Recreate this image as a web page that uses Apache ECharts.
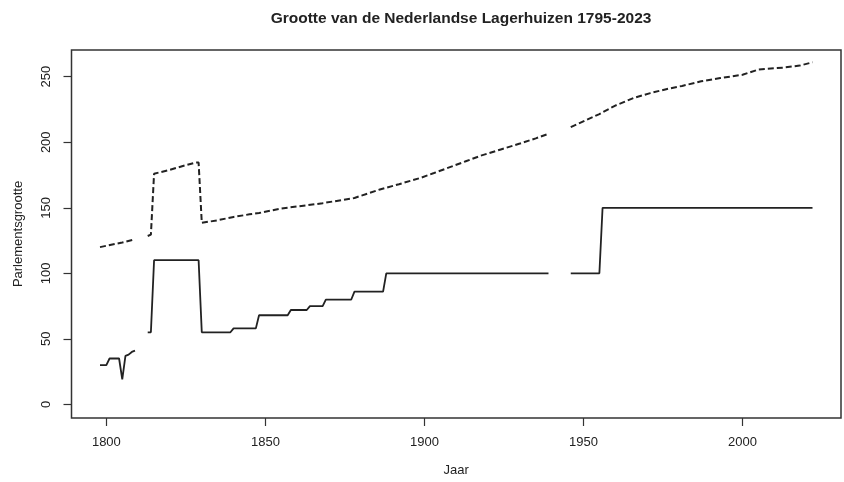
<!DOCTYPE html>
<html>
<head>
<meta charset="utf-8">
<script src="https://cdn.jsdelivr.net/npm/echarts@6/dist/echarts.min.js"></script>
<style>
html,body{margin:0;padding:0;background:#fff;}
#c{width:844px;height:482px;}
</style>
</head>
<body>
<div id="c"></div>
<script>
// Tick labels
const xTicks = [1800, 1850, 1900, 1950, 2000];
const yTicks = [0, 50, 100, 150, 200, 250];

// Solid line: actual size of the lower house ('-' marks a gap)
const sizeYears  = [1798,1800,1801,1804,1805,1806,1807,1808,1809,1810,1813,1814,1815,1829,1830,1839,1840,1847,1848,1857,1858,1863,1864,1868,1869,1877,1878,1887,1888,1939,1940,1946,1955,1956,2022];
const sizeValues = [30,30,35,35,19,37,38,40,41,'-',55,55,110,110,55,55,58,58,68,68,72,72,75,75,80,80,86,86,100,100,'-',100,100,150,150];

// Dashed line: second series ('-' marks a gap)
const refYears  = [1798,1800,1805,1809,1810,1813,1814,1815,1820,1825,1828,1829,1830,1835,1840,1845,1848,1855,1860,1868,1878,1886,1892,1899,1903,1908,1913,1918,1924,1930,1935,1939,1940,1946,1955,1960,1966,1971,1976,1981,1987,1993,2000,2005,2013,2018,2022];
const refValues = [120,121,123.5,126,'-',128.5,129.5,176,179,182.5,184.5,184.5,138.5,140.5,143,145,146,149.5,151,153.5,157.5,164,168,173,176.5,181,185.5,190,194.5,199,203,206.5,'-',211.5,221.5,228,234,237.5,240.5,243,246.5,249,251.5,255.5,257,258.5,261];

const pairs = (xs, ys) => xs.map((x, i) => [x, ys[i]]);

const font = "'Liberation Sans', Arial, Helvetica, sans-serif";
const ink = '#222';

const chart = echarts.init(document.getElementById('c'), null, {renderer: 'canvas'});
chart.setOption({
  animation: false,
  backgroundColor: '#fff',
  title: {
    text: 'Grootte van de Nederlandse Lagerhuizen 1795-2023',
    left: 456, top: 6, textAlign: 'center',
    textStyle: {fontFamily: font, fontSize: 15.5, fontWeight: 'bold', color: ink}
  },
  grid: {
    left: 71.5, right: 3, top: 50, bottom: 63.5,
    show: true, borderColor: '#333', borderWidth: 1.5, backgroundColor: 'transparent'
  },
  xAxis: {
    type: 'value', min: 1789.04, max: 2030.96,
    name: 'Jaar', nameLocation: 'middle', nameGap: 46,
    nameTextStyle: {fontFamily: font, fontSize: 13, color: ink},
    axisLine: {show: false, onZero: false},
    splitLine: {show: false},
    axisTick: {show: true, inside: false, length: 8, customValues: xTicks, lineStyle: {color: '#333', width: 1.2}},
    axisLabel: {customValues: xTicks, margin: 18, fontFamily: font, fontSize: 13, color: ink,
      formatter: v => String(v)}
  },
  yAxis: {
    type: 'value', min: -10.4, max: 270.4,
    name: 'Parlementsgrootte', nameLocation: 'middle', nameGap: 47,
    nameTextStyle: {fontFamily: font, fontSize: 13, color: ink},
    axisLine: {show: false, onZero: false},
    splitLine: {show: false},
    axisTick: {show: true, inside: false, length: 8, customValues: yTicks, lineStyle: {color: '#333', width: 1.2}},
    axisLabel: {customValues: yTicks, rotate: 90, margin: 19, fontFamily: font, fontSize: 13, color: ink,
      formatter: v => String(v)}
  },
  series: [
    {
      type: 'line', name: 'size', data: pairs(sizeYears, sizeValues),
      showSymbol: false, connectNulls: false,
      lineStyle: {color: ink, width: 1.8, type: 'solid'}
    },
    {
      type: 'line', name: 'ref', data: pairs(refYears, refValues),
      showSymbol: false, connectNulls: false,
      lineStyle: {color: ink, width: 2, type: [6, 3]}
    }
  ]
});
</script>
</body>
</html>
